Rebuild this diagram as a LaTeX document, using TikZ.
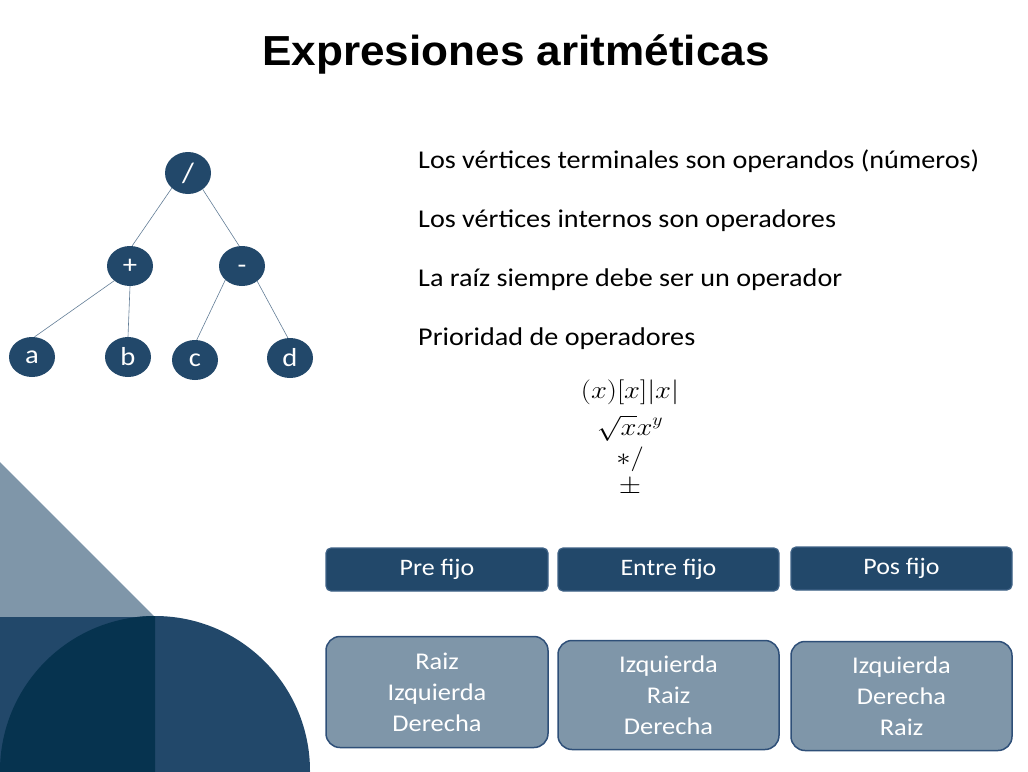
\documentclass[tikz,border=0pt]{standalone}
\usepackage{fontspec}
\setmainfont{Carlito}[FakeStretch=1.1]
\newfontfamily\titlefont{Liberation Sans}[FakeStretch=1.05]
\usetikzlibrary{shapes.geometric}
\definecolor{nodeblue}{HTML}{22486A}
\definecolor{edgecol}{HTML}{627D96}
\definecolor{lightblue}{HTML}{7F96A9}
\definecolor{darkblue}{HTML}{06334F}
\definecolor{topborder}{HTML}{3F6286}
\definecolor{botborder}{HTML}{2E4F78}
\tikzset{
  vert/.style={ellipse, fill=nodeblue, text=white, minimum width=46pt, minimum height=40pt, inner sep=0pt, font=\fontsize{26}{28}\selectfont},
  edge/.style={draw=edgecol, line width=0.6pt},
  headbox/.style={draw=topborder, line width=1.2pt, fill=nodeblue, rounded corners=5pt, text=white, font=\fontsize{23.6}{26}\selectfont},
  orderbox/.style={draw=botborder, line width=1.5pt, fill=lightblue, rounded corners=14pt, text=white, align=center, font=\fontsize{24}{31}\selectfont},
  bodytext/.style={anchor=base west, inner sep=0pt, font=\fontsize{25.6}{28}\selectfont},
  mathline/.style={inner sep=0pt, anchor=base, font=\fontsize{25}{28}\selectfont},
}
\begin{document}
\begin{tikzpicture}[x=1pt,y=-1pt]
\useasboundingbox (0,0) rectangle (1028,771);
\clip (0,0) rectangle (1028,771);
% decoration
\fill[lightblue] (0,462) -- (155,617) -- (0,617) -- cycle;
\fill[nodeblue] (0,617) rectangle (155,771);
\fill[nodeblue] (155,771) circle[radius=155pt];
\begin{scope}
\clip (0,616) rectangle (155,771);
\fill[darkblue] (155,771) circle[radius=155pt];
\end{scope}
% title
\node[anchor=base, inner sep=0pt, font=\titlefont\bfseries\fontsize{42}{46}\selectfont] (title) at (516,65) {Expresiones aritméticas};
% tree
\node[vert, minimum height=42pt, font=\fontsize{28}{30}\selectfont] (div) at (188,173) {/};
\node[vert] (plus) at (130,266) {+};
\node[vert] (minus) at (242,266) {\raisebox{-7pt}[0pt][0pt]{-}};
\node[vert] (a) at (32,357) {a};
\node[vert] (b) at (128,357) {b};
\node[vert] (c) at (195,360) {c};
\node[vert] (d) at (290,358) {d};
\draw[edge] (div.223) -- (plus.84);
\draw[edge] (div.312) -- (minus.98);
\draw[edge] (plus.223) -- (a.83);
\draw[edge] (plus.south) -- (b.north);
\draw[edge] (minus.220) -- (c.85);
\draw[edge] (minus.315) -- (d.96);
% text
\node[bodytext] (t1) at (418,168) {Los vértices terminales son operandos (números)};
\node[bodytext] (t2) at (418,227) {Los vértices internos son operadores};
\node[bodytext] (t3) at (418,286) {La raíz siempre debe ser un operador};
\node[bodytext] (t4) at (418,345) {Prioridad de operadores};
\node[mathline] (m1) at (630,398) {\scalebox{1.15}[1]{$(x)[x]|x|$}};
\node[mathline] (m2) at (630,435) {\scalebox{1.15}[1]{$\sqrt{x}x^y$}};
\node[mathline] (m3) at (630,465) {\scalebox{1.15}[1]{$*/$}};
\node[mathline] (m4) at (630,493) {\scalebox{1.15}[1]{$\pm$}};
% boxes
\node[headbox, minimum width=222pt, minimum height=43pt] (pre) at (437,569.5) {Pre fijo};
\node[headbox, minimum width=221pt, minimum height=43pt] (entre) at (668.5,569.5) {Entre fijo};
\node[headbox, minimum width=221pt, minimum height=43pt] (pos) at (901.5,568.5) {Pos fijo};
\node[orderbox, minimum width=222pt, minimum height=111pt] (rpre) at (437,692) {Raiz\\Izquierda\\Derecha};
\node[orderbox, minimum width=221pt, minimum height=109pt] (rentre) at (668.5,695) {Izquierda\\Raiz\\Derecha};
\node[orderbox, minimum width=221pt, minimum height=109pt] (rpos) at (901.5,696) {Izquierda\\Derecha\\Raiz};
\end{tikzpicture}
\end{document}
